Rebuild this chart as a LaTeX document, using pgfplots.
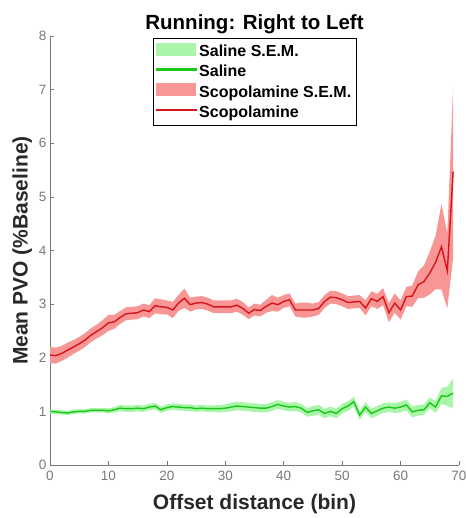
\documentclass[border=0pt]{standalone}
\usepackage{fontspec}
\setmainfont{Liberation Sans}
\usepackage{pgfplots}
\pgfplotsset{compat=1.18}
\usepgfplotslibrary{fillbetween}
\usetikzlibrary{calc}
\usepackage{pgfplotstable}

\definecolor{salline}{RGB}{25,200,25}
\definecolor{salfill}{RGB}{170,245,170}
\definecolor{scopline}{RGB}{215,20,25}
\definecolor{scopfill}{RGB}{248,150,150}
\definecolor{axgray}{RGB}{120,120,120}
\definecolor{labgray}{RGB}{40,40,40}

\pgfplotstableread{
x sm ss cm cs
0 1.00 0.04 2.05 0.15
1 0.99 0.04 2.04 0.15
2 0.98 0.04 2.08 0.14
3 0.97 0.04 2.14 0.14
4 0.99 0.04 2.20 0.13
5 1.00 0.04 2.26 0.13
6 1.00 0.04 2.33 0.13
7 1.02 0.04 2.42 0.13
8 1.02 0.04 2.49 0.13
9 1.02 0.04 2.56 0.14
10 1.01 0.05 2.65 0.15
11 1.03 0.05 2.67 0.13
12 1.06 0.06 2.75 0.12
13 1.05 0.06 2.82 0.12
14 1.05 0.06 2.83 0.12
15 1.06 0.06 2.84 0.12
16 1.05 0.06 2.89 0.12
17 1.08 0.06 2.86 0.12
18 1.10 0.06 2.97 0.14
19 1.03 0.06 2.95 0.14
20 1.07 0.06 2.94 0.13
21 1.09 0.06 2.89 0.15
22 1.08 0.06 3.02 0.15
23 1.07 0.06 3.11 0.18
24 1.07 0.06 2.99 0.13
25 1.05 0.06 3.02 0.12
26 1.06 0.06 3.03 0.12
27 1.05 0.06 3.00 0.12
28 1.05 0.06 2.95 0.12
29 1.05 0.07 2.95 0.12
30 1.06 0.07 2.95 0.12
31 1.08 0.08 2.95 0.12
32 1.10 0.08 2.98 0.12
33 1.09 0.08 2.92 0.12
34 1.08 0.08 2.83 0.11
35 1.07 0.08 2.90 0.11
36 1.06 0.08 2.88 0.11
37 1.06 0.08 2.96 0.12
38 1.09 0.08 3.02 0.15
39 1.13 0.08 2.99 0.13
40 1.10 0.08 3.05 0.12
41 1.08 0.08 3.08 0.12
42 1.09 0.08 2.89 0.12
43 1.06 0.08 2.89 0.14
44 0.98 0.08 2.89 0.14
45 1.01 0.09 2.89 0.12
46 1.03 0.09 2.92 0.12
47 0.96 0.09 3.05 0.12
48 1.00 0.09 3.13 0.12
49 0.96 0.09 3.12 0.12
50 1.05 0.09 3.08 0.12
51 1.10 0.09 3.03 0.12
52 1.18 0.09 3.04 0.12
53 0.93 0.09 3.05 0.12
54 1.08 0.09 2.93 0.14
55 0.96 0.09 3.10 0.14
56 1.01 0.09 3.05 0.14
57 1.06 0.09 3.14 0.16
58 1.08 0.09 2.84 0.18
59 1.06 0.09 3.02 0.18
60 1.08 0.10 2.89 0.18
61 1.12 0.10 3.14 0.18
62 0.99 0.10 3.15 0.20
63 1.02 0.10 3.36 0.25
64 1.03 0.10 3.42 0.30
65 1.16 0.10 3.58 0.40
66 1.08 0.11 3.78 0.50
67 1.29 0.15 4.07 0.80
68 1.28 0.18 3.62 0.70
69 1.34 0.28 5.47 1.60
}\data

\begin{document}
\begin{tikzpicture}
\begin{axis}[
  name=ax,
  scale only axis,
  width=409pt, height=429pt,
  xmin=0, xmax=70, ymin=0, ymax=8,
  xtick={0,10,...,70}, ytick={0,1,...,8},
  axis lines*=left,
  axis line style={axgray, line width=0.6pt},
  tick style={axgray, line width=0.6pt},
  major tick length=4pt,
  tick align=inside,
  /pgf/number format/assume math mode=true,
  tick label style={font=\fontsize{13.5}{16}\selectfont, text=axgray},
  xticklabel style={yshift=-3pt},
  title={Running: Right to Left},
  title style={font=\fontsize{20.5}{24}\selectfont\bfseries, text=black, yshift=-7pt},
  xlabel={Offset distance (bin)},
  ylabel={Mean PVO (\%Baseline)},
  label style={font=\fontsize{21}{24}\selectfont\bfseries, text=labgray},
  xlabel style={yshift=-6pt},
  legend style={at={(0.5,1)}, anchor=north, yshift=-2pt, draw=black, line width=0.5pt,
    font=\fontsize{16}{19}\selectfont\bfseries, fill=white, inner xsep=3pt, inner ysep=5pt, row sep=3pt},
  legend cell align=left,
]
\addplot[draw=none, name path=sU, forget plot] table[x=x, y expr=\thisrow{sm}+\thisrow{ss}] {\data};
\addplot[draw=none, name path=sL, forget plot] table[x=x, y expr=\thisrow{sm}-\thisrow{ss}] {\data};
\addplot[fill=salfill, draw=none, legend image code/.code={\fill[salfill] (0pt,-0.4em) rectangle (40pt,0.85em);}] fill between[of=sU and sL];
\addlegendentry{Saline S.E.M.}
\addplot[salline, line width=1.4pt, legend image code/.code={\fill[salline] (0pt,0.18em) rectangle (40pt,0.28em);}] table[x=x, y=sm] {\data};
\addlegendentry{Saline}
\addplot[draw=none, name path=cU, forget plot] table[x=x, y expr=\thisrow{cm}+\thisrow{cs}] {\data};
\addplot[draw=none, name path=cL, forget plot] table[x=x, y expr=\thisrow{cm}-\thisrow{cs}] {\data};
\addplot[fill=scopfill, draw=none, legend image code/.code={\fill[scopfill] (0pt,-0.4em) rectangle (40pt,0.85em);}] fill between[of=cU and cL];
\addlegendentry{Scopolamine S.E.M.}
\addplot[scopline, line width=1.4pt, legend image code/.code={\fill[scopline] (0pt,0.18em) rectangle (40pt,0.28em);}] table[x=x, y=cm] {\data};
\addlegendentry{Scopolamine}
\end{axis}
\pgfresetboundingbox
\path[use as bounding box] ($(ax.south west)+(-50pt,-53pt)$) rectangle ($(ax.north east)+(7pt,36pt)$);
\end{tikzpicture}
\end{document}
